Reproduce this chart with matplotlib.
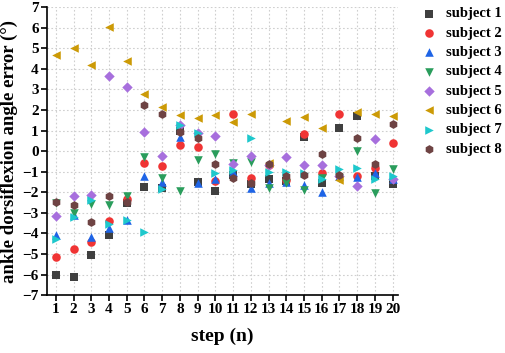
import numpy as np
import matplotlib
matplotlib.use("Agg")
import matplotlib.pyplot as plt

steps = np.arange(1, 21)

subject1 = [-6.0, -6.1, -5.05, -4.1, -2.5, -1.75, -1.8, 1.0, -1.5, -1.95,
            -1.15, -1.6, -1.35, -1.45, 0.7, -1.55, 1.1, 1.7, -1.2, -1.6]
subject2 = [-5.15, -4.75, -4.4, -3.4, -2.35, -0.6, -0.73, 0.28, 0.2, -1.45,
            1.8, -1.33, -0.7, -1.4, 0.83, -1.08, 1.78, -1.22, -0.84, 0.38]
subject3 = [-4.1, -3.1, -4.2, -3.75, -3.35, -1.22, -1.5, 0.7, -1.55, -1.38,
            -1.0, -1.8, -1.57, -1.5, -1.65, -1.98, -1.2, -1.28, -1.05, -1.35]
subject4 = [-2.5, -3.0, -2.55, -2.63, -2.2, -0.3, -1.33, -1.95, -0.45, -0.15,
            -0.57, -0.52, -1.77, -1.57, -1.9, -1.3, -1.3, 0.02, -2.03, -0.87]
subject5 = [-3.15, -2.2, -2.15, 3.65, 3.1, 0.92, -0.24, 1.26, 0.9, 0.73,
            -0.63, -0.24, -0.7, -0.31, -0.7, -0.68, -1.2, -1.72, 0.57, -1.35]
subject6 = [4.65, 5.0, 4.17, 6.02, 4.37, 2.76, 2.15, 1.76, 1.59, 1.76,
            1.39, 1.8, -0.57, 1.47, 1.67, 1.13, -1.41, 1.91, 1.8, 1.7]
subject7 = [-4.25, -3.2, -2.38, -3.55, -3.36, -3.95, -1.86, 1.26, 0.89, -1.08,
            -0.92, 0.62, -1.0, -1.0, -1.05, -1.38, -0.89, -0.84, -1.36, -1.2]
subject8 = [-2.47, -2.6, -3.45, -2.17, -2.47, 2.22, 1.81, 0.95, 0.62, -0.63,
            -1.33, -1.54, -0.63, -1.22, -1.17, -0.15, -1.17, 0.62, -0.63, 1.31]

series = [subject1, subject2, subject3, subject4,
          subject5, subject6, subject7, subject8]
labels = ["subject %d" % (i + 1) for i in range(8)]
markers = ["s", "o", "^", "v", "D", "<", ">", "h"]
colors = ["#404040", "#F03434", "#1E64E6", "#2A9D5C",
          "#A76FDD", "#CC9A06", "#1EC8CC", "#6E4343"]
sizes = [30, 38, 38, 38, 28, 38, 38, 40]

plt.rcParams["font.family"] = "Liberation Serif"
plt.rcParams["font.weight"] = "bold"

fig = plt.figure(figsize=(5.05, 3.53), dpi=100)
ax = fig.add_axes([0.093, 0.164, 0.695, 0.816])

for ys, lab, m, c, s in zip(series, labels, markers, colors, sizes):
    ax.scatter(steps, ys, marker=m, color=c, s=s, label=lab,
               linewidths=0, zorder=3)

ax.set_xlim(0.5, 20.3)
ax.set_ylim(-7, 7)
ax.set_xticks(steps)
ax.set_yticks(np.arange(-7, 8))
ax.grid(True, linestyle=(0, (1.5, 2)), color="#cfcfcf", linewidth=0.8)
ax.spines["top"].set_visible(False)
ax.spines["right"].set_visible(False)
ax.spines["left"].set_linewidth(1.2)
ax.spines["bottom"].set_linewidth(1.2)
ax.tick_params(direction="out", length=4, width=1.2, labelsize=11, pad=2)
for t in ax.get_xticklabels() + ax.get_yticklabels():
    t.set_fontweight("bold")

ax.set_xlabel("step (n)", fontsize=14, fontweight="bold", labelpad=8)
ax.set_ylabel("ankle dorsiflexion angle error (°)", fontsize=13.5,
              fontweight="bold", labelpad=3)

ax.legend(loc="upper left", bbox_to_anchor=(1.035, 1.035), frameon=False,
          prop={"size": 10.5, "weight": "bold"}, handletextpad=0.55,
          labelspacing=0.42, handlelength=1.2, borderpad=0.2)

fig.savefig("out.png", dpi=100)
